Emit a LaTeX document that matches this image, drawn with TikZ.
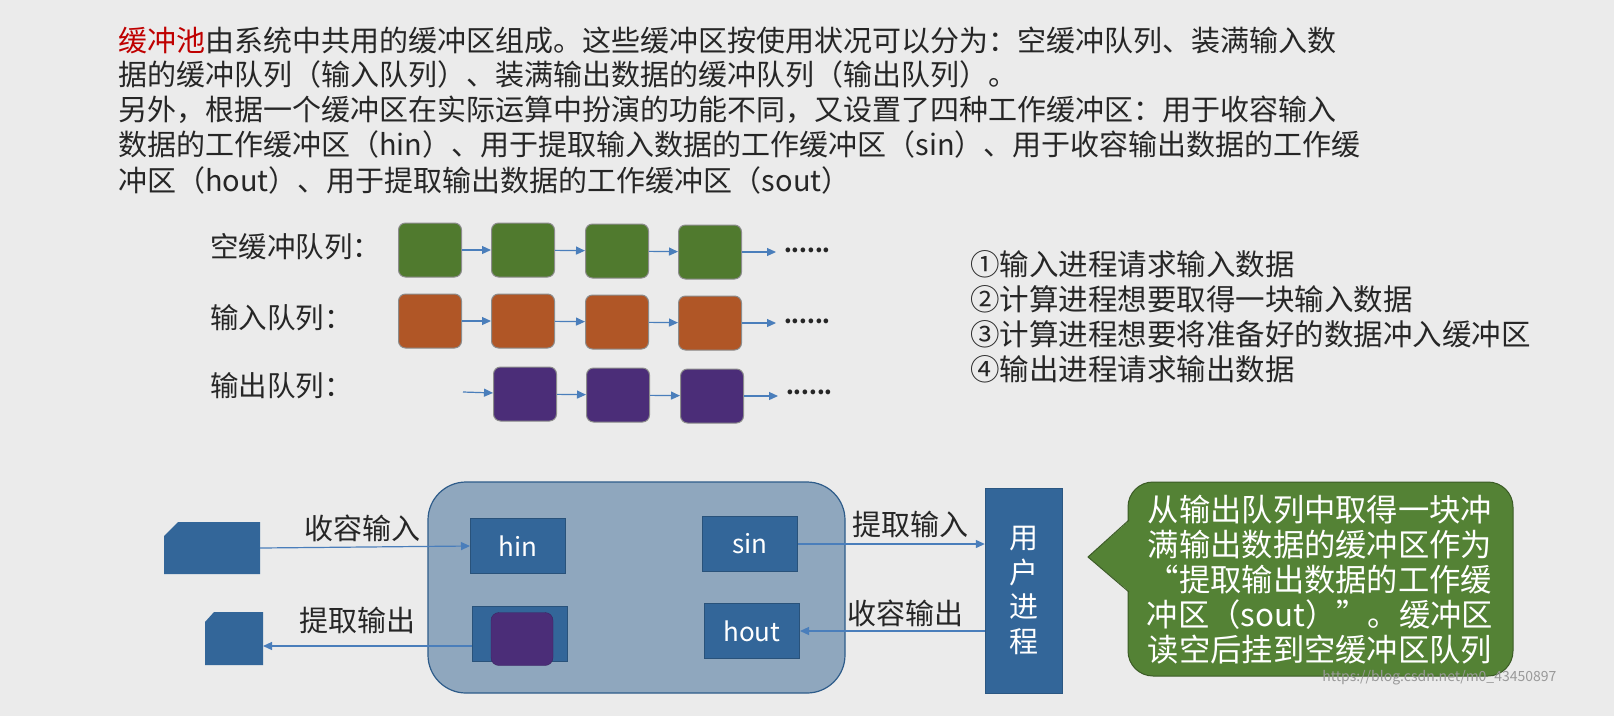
\documentclass[tikz,border=0pt]{standalone}
\usepackage{fontspec}
\setmainfont{Noto Sans CJK SC}
\usetikzlibrary{arrows.meta,shapes.geometric}
\definecolor{bg}{HTML}{EBEBEB}
\definecolor{txt}{HTML}{262626}
\definecolor{gbox}{HTML}{507A2E}
\definecolor{obox}{HTML}{B05626}
\definecolor{pbox}{HTML}{4B2D78}
\definecolor{bbox}{HTML}{336699}
\definecolor{pool}{HTML}{8FA7BE}
\definecolor{arr}{HTML}{4A7EBB}
\definecolor{callg}{HTML}{548235}
\tikzset{
  qbox/.style={draw=black!45,line width=1pt,rounded corners=7pt,minimum width=63pt,minimum height=54pt,inner sep=0pt},
  wbox/.style={draw=bbox!80!black,fill=bbox,line width=1pt,minimum width=95pt,minimum height=55pt,inner sep=0pt,text=white,font=\fontsize{26}{30}\selectfont},
  link/.style={arr,line width=1.2pt,-{Triangle[length=9pt,width=8pt]}},
  para/.style={anchor=west,text=txt,font=\fontsize{29}{32}\selectfont,inner sep=0pt},
  lbl/.style={text=txt,font=\fontsize{29}{32}\selectfont,inner sep=0pt},
  dots/.style={text=txt,font=\fontsize{22}{24}\selectfont\bfseries,inner sep=0pt}
}
\begin{document}
\begin{tikzpicture}[x=1pt,y=-1pt]
\fill[bg] (0,0) rectangle (1614,716);
\useasboundingbox (0,0) rectangle (1614,716);
% paragraph
\node[para] (p1) at (118,40) {\textcolor{red!75!black}{缓冲池}由系统中共用的缓冲区组成。这些缓冲区按使用状况可以分为：空缓冲队列、装满输入数};
\node[para] (p2) at (118,74) {据的缓冲队列（输入队列）、装满输出数据的缓冲队列（输出队列）。};
\node[para] (p3) at (118,110) {另外，根据一个缓冲区在实际运算中扮演的功能不同，又设置了四种工作缓冲区：用于收容输入};
\node[para] (p4) at (118,144) {数据的工作缓冲区（hin）、用于提取输入数据的工作缓冲区（sin）、用于收容输出数据的工作缓};
\node[para] (p5) at (118,180) {冲区（hout）、用于提取输出数据的工作缓冲区（sout）};
% queues
\node[lbl,anchor=west,font=\fontsize{28.5}{32}\selectfont] (l1) at (210,247) {空缓冲队列：};
\node[lbl,anchor=west,font=\fontsize{28.5}{32}\selectfont] (l2) at (210,318) {输入队列：};
\node[lbl,anchor=west,font=\fontsize{28.5}{32}\selectfont] (l3) at (210,386) {输出队列：};
\foreach \r/\y/\c in {g/250/gbox,o/321/obox}{
  \node[qbox,fill=\c] (\r1) at (430,\y) {};
  \node[qbox,fill=\c] (\r2) at (523,\y) {};
  \node[qbox,fill=\c] (\r3) at (617,\y+1) {};
  \node[qbox,fill=\c] (\r4) at (710,\y+2) {};
  \coordinate (\r e) at (776,\y+2);
  \node[dots,anchor=west] (\r d) at (784,\y) {......};
  \draw[link] (\r1) -- (\r2);
  \draw[link] (\r2) -- (\r3);
  \draw[link] (\r3) -- (\r4);
  \draw[link] (\r4) -- (\r e);
}
\coordinate (ps) at (463,392);
\node[qbox,fill=pbox] (p1b) at (525,394) {};
\node[qbox,fill=pbox] (p2b) at (618,395) {};
\node[qbox,fill=pbox] (p3b) at (712,396) {};
\coordinate (pe) at (778,396);
\node[dots,anchor=west] (pd) at (786,392) {......};
\draw[link] (ps) -- (p1b);
\draw[link] (p1b) -- (p2b);
\draw[link] (p2b) -- (p3b);
\draw[link] (p3b) -- (pe);
% list
\node[lbl,anchor=west,font=\fontsize{29.5}{32}\selectfont] (i1) at (970,264) {①输入进程请求输入数据};
\node[lbl,anchor=west,font=\fontsize{29.5}{32}\selectfont] (i2) at (970,299) {②计算进程想要取得一块输入数据};
\node[lbl,anchor=west,font=\fontsize{29.5}{32}\selectfont] (i3) at (970,334) {③计算进程想要将准备好的数据冲入缓冲区};
\node[lbl,anchor=west,font=\fontsize{29.5}{32}\selectfont] (i4) at (970,369) {④输出进程请求输出数据};
% pool
\node[draw=bbox!90!black,fill=pool,line width=1.2pt,rounded corners=38pt,minimum width=417pt,minimum height=211pt,inner sep=0pt] (pool) at (636.5,587.5) {};
\node[wbox] (hin) at (518,546) {hin};
\node[wbox] (sin) at (750,544) {sin};
\node[wbox] (hout) at (752,631) {hout};
\node[wbox] (sout) at (520,634) {};
\node[draw=pbox!80!black,fill=pbox,rounded corners=8pt,minimum width=62pt,minimum height=53pt,inner sep=0pt] (soutb) at (522,639) {};
% devices
\coordinate (d1) at (260,548);
\fill[bbox] (164,536) -- (178,522) -- (260,522) -- (260,574) -- (164,574) -- cycle;
\coordinate (d2) at (263,646);
\fill[bbox] (205,622) -- (214,612) -- (263,612) -- (263,665) -- (205,665) -- cycle;
\draw[link] (d1) -- (hin.west);
\coordinate (so) at (sout.west|-d2);
\draw[link] (so) -- (d2);
\node[lbl] (t1) at (362,528) {收容输入};
\node[lbl] (t2) at (357,620) {提取输出};
% user process
\node[fill=bbox,draw=bbox!85!black,minimum width=77pt,minimum height=205pt,inner sep=0pt,text=white,align=center,font=\fontsize{29}{34.5}\selectfont] (up) at (1023.5,590.5) {用\\户\\进\\程};
\draw[link] (sin.east) -- (sin.east-|up.west);
\draw[link] (hout.east-|up.west) -- (hout.east);
\node[lbl] (t3) at (910,524) {提取输入};
\node[lbl] (t4) at (905,613) {收容输出};
% callout
\node[draw=callg!70!black,fill=callg,line width=1pt,rounded corners=25pt,minimum width=385pt,minimum height=194pt,inner sep=0pt] (call) at (1320.5,579) {};
\fill[callg] (1130,520) -- (1088,557) -- (1130,592) -- cycle;
\draw[callg!70!black,line width=1pt] (1129,520) -- (1088,557) -- (1129,592);
\node[text=white,align=center,font=\fontsize{31.3}{35}\selectfont] (ct) at (1320,580) {从输出队列中取得一块冲\\满输出数据的缓冲区作为\\“提取输出数据的工作缓\\冲区（sout）”。缓冲区\\读空后挂到空缓冲区队列};
\node[text=black!40,font=\fontsize{14}{16}\selectfont,anchor=east] (wm) at (1560,678) {https://blog.csdn.net/m0\_43450897};
\end{tikzpicture}
\end{document}
